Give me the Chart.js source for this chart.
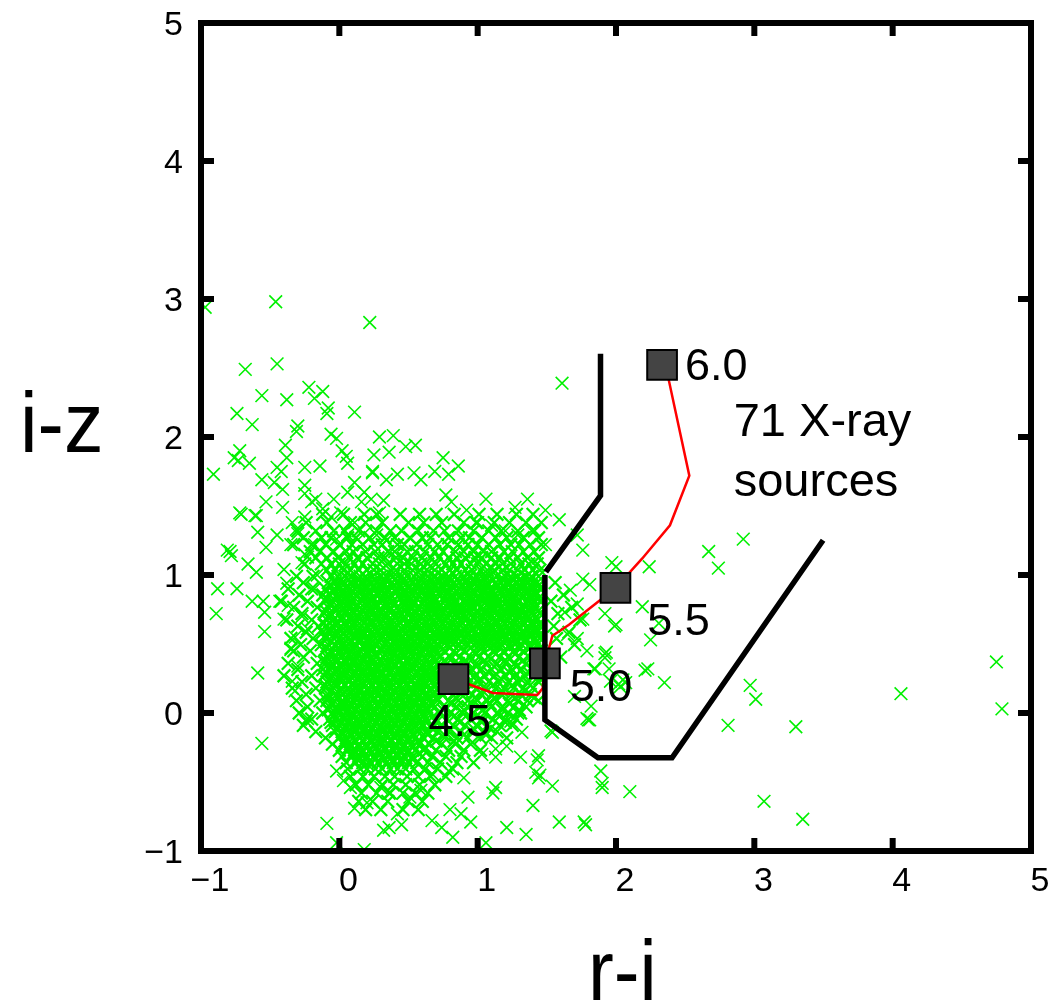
<!DOCTYPE html>
<html>
<head>
<meta charset="utf-8">
<title>r-i vs i-z</title>
<script src="https://cdn.jsdelivr.net/npm/chart.js"></script>
<style>
  html, body { margin: 0; padding: 0; background: #fff; }
  #wrap { width: 1054px; height: 1005px; }
</style>
</head>
<body>
<div id="wrap"><canvas id="chart" width="1054" height="1005"></canvas></div>
<script>
// Axis ticks
const riTicks = [-1, 0, 1, 2, 3, 4, 5];
const izTicks = [-1, 0, 1, 2, 3, 4, 5];

// Field objects, dense part: each row is [i-z, [r-i values...]]
const fieldRows = [
  [1.44, [-0.12, 0.03, 0.18, 0.27, 0.44, 0.58, 0.7, 0.83, 1.01, 1.14, 1.28, 1.4]],
  [1.38, [-0.24, -0.09, 0.08, 0.19, 0.31, 0.5, 0.61, 0.74, 0.9, 0.99, 1.12, 1.23, 1.35, 1.46]],
  [1.32, [-0.3, -0.17, -0.04, 0.04, 0.14, 0.27, 0.37, 0.45, 0.57, 0.68, 0.76, 0.86, 0.97, 1.08, 1.17, 1.29, 1.41]],
  [1.27, [-0.26, -0.13, -0.06, 0.06, 0.12, 0.22, 0.33, 0.4, 0.51, 0.6, 0.66, 0.79, 0.88, 0.94, 1.03, 1.13, 1.21, 1.33, 1.44]],
  [1.22, [-0.33, -0.2, -0.1, 0.0, 0.09, 0.17, 0.25, 0.31, 0.42, 0.47, 0.56, 0.64, 0.71, 0.78, 0.86, 0.93, 1.0, 1.08, 1.16, 1.24, 1.3, 1.38, 1.46]],
  [1.17, [-0.21, -0.14, -0.04, 0.05, 0.1, 0.19, 0.26, 0.35, 0.4, 0.49, 0.55, 0.62, 0.69, 0.75, 0.84, 0.9, 0.97, 1.04, 1.1, 1.19, 1.25, 1.33, 1.41]],
  [1.125, [-0.17, -0.09, -0.01, 0.07, 0.13, 0.2, 0.28, 0.33, 0.41, 0.46, 0.53, 0.6, 0.66, 0.72, 0.79, 0.85, 0.91, 0.98, 1.03, 1.1, 1.16, 1.23, 1.29, 1.36, 1.44]],
  [1.08, [-0.25, -0.13, -0.06, 0.0, 0.05, 0.11, 0.17, 0.24, 0.29, 0.35, 0.42, 0.47, 0.52, 0.59, 0.64, 0.7, 0.77, 0.82, 0.88, 0.95, 1.0, 1.06, 1.13, 1.18, 1.24, 1.31, 1.37, 1.43]],
  [1.035, [-0.09, -0.03, 0.03, 0.08, 0.14, 0.2, 0.25, 0.3, 0.37, 0.41, 0.47, 0.53, 0.58, 0.63, 0.69, 0.74, 0.8, 0.85, 0.91, 0.96, 1.02, 1.07, 1.12, 1.18, 1.23, 1.29, 1.34, 1.4, 1.45]],
  [0.99, [-0.31, -0.19, -0.06, -0.01, 0.04, 0.09, 0.15, 0.19, 0.24, 0.3, 0.34, 0.39, 0.45, 0.49, 0.54, 0.6, 0.64, 0.69, 0.75, 0.79, 0.84, 0.9, 0.94, 0.99, 1.05, 1.09, 1.14, 1.2, 1.24, 1.29, 1.35, 1.39, 1.44]],
  [0.967, [0.01, 0.07, 0.13, 0.2, 0.26, 0.33, 0.4, 0.46, 0.52, 0.59, 0.66, 0.72, 0.79, 0.85, 0.92, 0.98, 1.05, 1.11, 1.18, 1.25, 1.31, 1.38]],
  [0.945, [-0.26, -0.08, -0.03, 0.02, 0.08, 0.12, 0.17, 0.23, 0.27, 0.32, 0.38, 0.42, 0.47, 0.53, 0.57, 0.62, 0.68, 0.72, 0.77, 0.83, 0.87, 0.92, 0.98, 1.02, 1.07, 1.13, 1.17, 1.22, 1.28, 1.32, 1.37, 1.43, 1.56]],
  [0.922, [-0.06, 0.0, 0.06, 0.14, 0.19, 0.25, 0.31, 0.39, 0.44, 0.5, 0.56, 0.64, 0.69, 0.75, 0.81, 0.89, 0.94, 1.0, 1.06, 1.14, 1.19, 1.25, 1.31, 1.39, 1.44]],
  [0.9, [-0.37, -0.2, -0.1, -0.04, 0.0, 0.05, 0.11, 0.15, 0.2, 0.26, 0.3, 0.35, 0.41, 0.45, 0.5, 0.56, 0.6, 0.65, 0.71, 0.75, 0.8, 0.86, 0.9, 0.95, 1.01, 1.05, 1.1, 1.16, 1.2, 1.25, 1.31, 1.35, 1.4, 1.45]],
  [0.877, [-0.04, 0.03, 0.09, 0.16, 0.22, 0.28, 0.35, 0.41, 0.47, 0.54, 0.6, 0.66, 0.73, 0.79, 0.85, 0.92, 0.98, 1.04, 1.11, 1.17, 1.23, 1.3, 1.36, 1.42]],
  [0.855, [-0.29, -0.12, -0.07, -0.02, 0.03, 0.07, 0.13, 0.18, 0.22, 0.28, 0.33, 0.37, 0.43, 0.48, 0.52, 0.58, 0.63, 0.67, 0.73, 0.78, 0.82, 0.88, 0.93, 0.97, 1.03, 1.08, 1.12, 1.18, 1.23, 1.27, 1.33, 1.38, 1.42, 1.62]],
  [0.832, [-0.09, -0.01, 0.05, 0.11, 0.18, 0.25, 0.3, 0.37, 0.44, 0.49, 0.56, 0.63, 0.68, 0.75, 0.82, 0.87, 0.94, 1.01, 1.06, 1.13, 1.2, 1.25, 1.32, 1.39, 1.44]],
  [0.81, [-0.42, -0.23, -0.1, -0.05, 0.01, 0.05, 0.09, 0.16, 0.2, 0.24, 0.31, 0.35, 0.39, 0.46, 0.5, 0.54, 0.61, 0.65, 0.69, 0.76, 0.8, 0.84, 0.91, 0.95, 0.99, 1.06, 1.1, 1.14, 1.21, 1.25, 1.29, 1.36, 1.4, 1.45, 1.53]],
  [0.787, [-0.07, 0.0, 0.07, 0.13, 0.2, 0.27, 0.33, 0.4, 0.47, 0.53, 0.6, 0.67, 0.73, 0.8, 0.87, 0.93, 1.0, 1.07, 1.13, 1.2, 1.27, 1.33, 1.4]],
  [0.765, [-0.33, -0.16, -0.08, -0.03, 0.03, 0.07, 0.12, 0.18, 0.22, 0.27, 0.33, 0.37, 0.42, 0.48, 0.52, 0.57, 0.63, 0.67, 0.72, 0.78, 0.82, 0.87, 0.93, 0.97, 1.02, 1.08, 1.12, 1.17, 1.23, 1.27, 1.32, 1.38, 1.42, 1.68]],
  [0.742, [-0.1, -0.02, 0.05, 0.1, 0.17, 0.23, 0.29, 0.36, 0.43, 0.48, 0.55, 0.62, 0.67, 0.74, 0.81, 0.86, 0.93, 1.0, 1.05, 1.12, 1.19, 1.24, 1.31, 1.38, 1.44]],
  [0.72, [-0.27, -0.11, -0.06, 0.0, 0.04, 0.1, 0.15, 0.19, 0.25, 0.3, 0.34, 0.4, 0.45, 0.49, 0.55, 0.6, 0.64, 0.7, 0.75, 0.79, 0.85, 0.9, 0.94, 1.0, 1.05, 1.09, 1.15, 1.2, 1.24, 1.3, 1.35, 1.39, 1.45, 1.58]],
  [0.697, [-0.08, 0.02, 0.08, 0.14, 0.21, 0.27, 0.34, 0.4, 0.47, 0.53, 0.59, 0.66, 0.72, 0.78, 0.85, 0.91, 0.97, 1.04, 1.1, 1.17, 1.23, 1.29, 1.36, 1.42]],
  [0.675, [-0.38, -0.2, -0.09, -0.04, 0.02, 0.08, 0.12, 0.17, 0.23, 0.27, 0.32, 0.38, 0.42, 0.47, 0.53, 0.57, 0.62, 0.68, 0.72, 0.77, 0.83, 0.87, 0.92, 0.98, 1.02, 1.07, 1.13, 1.17, 1.22, 1.28, 1.32, 1.37, 1.43, 1.74]],
  [0.652, [-0.11, -0.01, 0.04, 0.11, 0.18, 0.24, 0.3, 0.37, 0.44, 0.5, 0.56, 0.63, 0.7, 0.75, 0.82, 0.89, 0.94, 1.01, 1.08, 1.14, 1.2, 1.27, 1.34, 1.4, 1.45]],
  [0.63, [-0.3, -0.15, -0.1, -0.05, 0.01, 0.05, 0.1, 0.16, 0.2, 0.25, 0.31, 0.35, 0.4, 0.46, 0.5, 0.55, 0.61, 0.65, 0.7, 0.76, 0.8, 0.85, 0.91, 0.95, 1.0, 1.06, 1.1, 1.15, 1.21, 1.25, 1.3, 1.36, 1.4, 1.45, 1.55]],
  [0.607, [-0.07, 0.0, 0.07, 0.13, 0.19, 0.26, 0.33, 0.39, 0.45, 0.52, 0.59, 0.65, 0.71, 0.78, 0.85, 0.9, 0.97, 1.04, 1.1, 1.16, 1.23, 1.3, 1.36, 1.43]],
  [0.585, [-0.24, -0.12, -0.07, -0.02, 0.03, 0.08, 0.13, 0.18, 0.23, 0.28, 0.33, 0.38, 0.43, 0.48, 0.53, 0.58, 0.63, 0.68, 0.73, 0.78, 0.83, 0.88, 0.93, 0.98, 1.03, 1.08, 1.13, 1.18, 1.23, 1.28, 1.33, 1.38, 1.43, 1.66]],
  [0.562, [-0.1, -0.02, 0.05, 0.12, 0.17, 0.24, 0.31, 0.36, 0.43, 0.5, 0.55, 0.62, 0.69, 0.74, 0.81, 0.88, 0.93, 1.0, 1.07, 1.12, 1.19, 1.26, 1.31, 1.38, 1.44]],
  [0.54, [-0.35, -0.19, -0.1, -0.04, 0.0, 0.06, 0.11, 0.15, 0.21, 0.26, 0.3, 0.36, 0.41, 0.45, 0.51, 0.56, 0.6, 0.66, 0.71, 0.75, 0.81, 0.86, 0.9, 0.96, 1.01, 1.05, 1.11, 1.16, 1.2, 1.26, 1.31, 1.35, 1.41, 1.45, 1.57]],
  [0.517, [-0.06, 0.01, 0.08, 0.15, 0.21, 0.28, 0.35, 0.41, 0.48, 0.55, 0.61, 0.68, 0.75, 0.81, 0.88, 0.95, 1.01, 1.08, 1.15, 1.21, 1.28, 1.35, 1.42]],
  [0.495, [-0.28, -0.13, -0.08, -0.03, 0.03, 0.07, 0.12, 0.18, 0.22, 0.27, 0.33, 0.37, 0.42, 0.48, 0.52, 0.57, 0.63, 0.67, 0.72, 0.78, 0.82, 0.87, 0.93, 0.97, 1.02, 1.08, 1.12, 1.17, 1.23, 1.27, 1.32, 1.38, 1.43, 1.7]],
  [0.472, [-0.09, -0.01, 0.04, 0.11, 0.18, 0.23, 0.3, 0.37, 0.42, 0.49, 0.56, 0.61, 0.68, 0.73, 0.8, 0.88, 0.95, 1.02, 1.09, 1.16, 1.23, 1.3, 1.38, 1.45]],
  [0.45, [-0.33, -0.21, -0.11, -0.06, 0.0, 0.05, 0.09, 0.15, 0.2, 0.24, 0.3, 0.35, 0.39, 0.45, 0.5, 0.54, 0.6, 0.65, 0.69, 0.76, 0.83, 0.9, 0.97, 1.04, 1.11, 1.19, 1.26, 1.33, 1.4, 1.46]],
  [0.427, [-0.08, 0.0, 0.07, 0.13, 0.2, 0.26, 0.33, 0.39, 0.46, 0.52, 0.59, 0.65, 0.71, 0.84, 0.99, 1.13, 1.27, 1.41]],
  [0.405, [-0.26, -0.09, -0.03, 0.02, 0.08, 0.12, 0.17, 0.23, 0.27, 0.32, 0.38, 0.42, 0.47, 0.53, 0.57, 0.62, 0.68, 0.73, 0.8, 0.87, 0.95, 1.01, 1.08, 1.16, 1.22, 1.3, 1.37, 1.44, 1.6]],
  [0.382, [-0.1, -0.02, 0.04, 0.11, 0.17, 0.24, 0.3, 0.37, 0.43, 0.5, 0.56, 0.63, 0.69, 0.76, 0.91, 1.05, 1.2, 1.33]],
  [0.36, [-0.37, -0.16, -0.1, -0.05, 0.01, 0.05, 0.1, 0.16, 0.2, 0.25, 0.31, 0.35, 0.4, 0.46, 0.5, 0.55, 0.61, 0.65, 0.71, 0.78, 0.86, 0.93, 0.99, 1.06, 1.14, 1.2, 1.27, 1.35, 1.42]],
  [0.337, [-0.06, 0.01, 0.08, 0.14, 0.21, 0.27, 0.34, 0.4, 0.47, 0.53, 0.6, 0.66, 0.72, 0.85, 0.99, 1.12, 1.28, 1.43]],
  [0.315, [-0.3, -0.12, -0.07, -0.02, 0.03, 0.08, 0.13, 0.18, 0.23, 0.28, 0.33, 0.38, 0.43, 0.48, 0.53, 0.58, 0.63, 0.68, 0.74, 0.82, 0.89, 0.96, 1.03, 1.1, 1.17, 1.25, 1.32, 1.39, 1.46]],
  [0.292, [-0.09, -0.02, 0.05, 0.11, 0.18, 0.24, 0.31, 0.37, 0.44, 0.5, 0.57, 0.63, 0.7, 0.8, 0.94, 1.08, 1.23, 1.37]],
  [0.27, [-0.4, -0.2, -0.11, -0.05, 0.0, 0.04, 0.1, 0.15, 0.19, 0.25, 0.3, 0.34, 0.4, 0.45, 0.49, 0.55, 0.6, 0.64, 0.7, 0.77, 0.84, 0.92, 0.98, 1.05, 1.12, 1.2, 1.27, 1.34, 1.41]],
  [0.247, [-0.07, 0.0, 0.07, 0.13, 0.2, 0.26, 0.33, 0.39, 0.46, 0.52, 0.59, 0.65, 0.71, 0.88, 1.02, 1.17, 1.31, 1.45]],
  [0.225, [-0.27, -0.09, -0.03, 0.02, 0.07, 0.12, 0.17, 0.22, 0.27, 0.32, 0.37, 0.42, 0.47, 0.52, 0.57, 0.62, 0.67, 0.72, 0.8, 0.87, 0.94, 1.0, 1.08, 1.15, 1.22, 1.29, 1.36, 1.44]],
  [0.202, [-0.1, -0.03, 0.04, 0.1, 0.17, 0.23, 0.3, 0.36, 0.43, 0.49, 0.56, 0.62, 0.69, 0.82, 0.96, 1.11, 1.25, 1.38]],
  [0.18, [-0.34, -0.17, -0.1, -0.04, 0.01, 0.06, 0.11, 0.15, 0.21, 0.26, 0.3, 0.36, 0.41, 0.45, 0.51, 0.56, 0.6, 0.66, 0.71, 0.78, 0.85, 0.91, 0.99, 1.06, 1.13, 1.19, 1.26, 1.33, 1.4]],
  [0.157, [-0.06, 0.01, 0.08, 0.14, 0.21, 0.27, 0.34, 0.4, 0.47, 0.53, 0.6, 0.66, 0.73, 0.89, 1.04, 1.18, 1.34]],
  [0.135, [-0.24, -0.08, -0.02, 0.03, 0.08, 0.13, 0.18, 0.23, 0.28, 0.33, 0.38, 0.43, 0.48, 0.53, 0.58, 0.63, 0.68, 0.74, 0.82, 0.88, 0.96, 1.03, 1.1, 1.17, 1.24, 1.31, 1.38]],
  [0.112, [-0.08, -0.01, 0.05, 0.12, 0.18, 0.25, 0.31, 0.38, 0.44, 0.51, 0.57, 0.64, 0.7, 0.84, 0.98, 1.12, 1.27, 1.41]],
  [0.09, [-0.31, -0.14, -0.09, -0.04, 0.02, 0.06, 0.1, 0.16, 0.2, 0.25, 0.31, 0.35, 0.4, 0.46, 0.5, 0.55, 0.61, 0.65, 0.71, 0.79, 0.86, 0.93, 1.0, 1.07, 1.14, 1.22, 1.29, 1.36, 1.44]],
  [0.067, [-0.05, 0.02, 0.08, 0.15, 0.21, 0.28, 0.34, 0.41, 0.47, 0.54, 0.6, 0.67, 0.81, 0.96, 1.09, 1.23]],
  [0.045, [-0.23, -0.07, -0.02, 0.03, 0.08, 0.13, 0.18, 0.23, 0.28, 0.33, 0.38, 0.43, 0.48, 0.53, 0.58, 0.63, 0.69, 0.77, 0.85, 0.93, 1.01, 1.1, 1.18, 1.26, 1.35]],
  [0.022, [-0.08, -0.01, 0.06, 0.12, 0.19, 0.25, 0.32, 0.38, 0.45, 0.51, 0.58, 0.64, 0.75, 0.9, 1.04, 1.18, 1.3]],
  [0.0, [-0.29, -0.12, -0.05, 0.0, 0.05, 0.1, 0.15, 0.2, 0.25, 0.3, 0.35, 0.4, 0.45, 0.5, 0.55, 0.6, 0.65, 0.72, 0.8, 0.89, 0.97, 1.05, 1.14, 1.22, 1.31]],
  [-0.023, [-0.04, 0.03, 0.09, 0.16, 0.22, 0.29, 0.35, 0.42, 0.48, 0.55, 0.61, 0.68, 0.83, 0.99, 1.16]],
  [-0.045, [-0.2, -0.07, -0.02, 0.03, 0.08, 0.13, 0.18, 0.23, 0.28, 0.33, 0.38, 0.43, 0.48, 0.53, 0.58, 0.63, 0.7, 0.78, 0.86, 0.95, 1.03, 1.11, 1.2, 1.28]],
  [-0.068, [-0.06, 0.01, 0.07, 0.14, 0.2, 0.27, 0.33, 0.4, 0.46, 0.53, 0.59, 0.7, 0.87, 1.03, 1.2]],
  [-0.09, [-0.26, -0.05, 0.0, 0.05, 0.1, 0.15, 0.2, 0.25, 0.3, 0.35, 0.4, 0.45, 0.5, 0.55, 0.6, 0.66, 0.74, 0.82, 0.91, 0.99, 1.07, 1.16, 1.25]],
  [-0.113, [-0.02, 0.05, 0.11, 0.18, 0.24, 0.31, 0.37, 0.44, 0.5, 0.57, 0.67, 0.8, 0.97, 1.09]],
  [-0.135, [-0.17, -0.03, 0.02, 0.07, 0.12, 0.17, 0.22, 0.27, 0.32, 0.37, 0.42, 0.47, 0.52, 0.57, 0.63, 0.71, 0.79, 0.88, 0.96, 1.05, 1.14]],
  [-0.158, [0.02, 0.08, 0.15, 0.21, 0.28, 0.34, 0.41, 0.47, 0.54, 0.64, 0.76, 0.9, 1.06]],
  [-0.18, [-0.1, 0.0, 0.05, 0.1, 0.15, 0.2, 0.25, 0.3, 0.35, 0.4, 0.45, 0.5, 0.55, 0.61, 0.68, 0.76, 0.85, 0.93, 1.02, 1.1, 1.21]],
  [-0.203, [0.04, 0.11, 0.17, 0.24, 0.3, 0.37, 0.43, 0.5, 0.57, 0.7, 0.83]],
  [-0.225, [-0.05, 0.03, 0.08, 0.14, 0.19, 0.25, 0.3, 0.36, 0.41, 0.47, 0.52, 0.58, 0.65, 0.74, 0.84, 0.95]],
  [-0.248, [0.07, 0.14, 0.2, 0.27, 0.33, 0.4, 0.46, 0.53, 0.62]],
  [-0.27, [0.0, 0.06, 0.11, 0.17, 0.22, 0.28, 0.33, 0.39, 0.44, 0.5, 0.55, 0.61, 0.7, 0.79, 0.9, 1.02]],
  [-0.293, [0.1, 0.16, 0.23, 0.29, 0.36, 0.42, 0.49, 0.58]],
  [-0.315, [0.02, 0.09, 0.14, 0.2, 0.25, 0.31, 0.36, 0.42, 0.47, 0.53, 0.6, 0.67, 0.77, 0.88]],
  [-0.338, [0.13, 0.19, 0.26, 0.32, 0.39, 0.45, 0.53]],
  [-0.36, [0.05, 0.12, 0.17, 0.23, 0.28, 0.34, 0.39, 0.45, 0.5, 0.56, 0.64, 0.73, 0.85, 0.97]],
  [-0.405, [0.06, 0.15, 0.2, 0.26, 0.31, 0.37, 0.42, 0.48, 0.54, 0.62, 0.71, 0.82]],
  [-0.46, [0.08, 0.17, 0.25, 0.33, 0.4, 0.49, 0.57, 0.66, 0.77]],
  [-0.52, [0.12, 0.21, 0.31, 0.39, 0.48, 0.58, 0.69]],
  [-0.58, [0.16, 0.27, 0.36, 0.46, 0.55, 0.64]],
  [-0.64, [0.14, 0.24, 0.35, 0.5, 0.6]],
  [-0.7, [0.19, 0.3, 0.46, 0.57]]
];

// Field objects, scattered ones: [r-i, i-z]
const fieldLoose = [
  [-0.97, 2.94], [-0.46, 2.98], [0.22, 2.83], [-0.68, 2.49], [-0.45, 2.53], [-0.22, 2.36], [-0.12, 2.33],
  [-0.18, 2.28], [-0.56, 2.3], [-0.38, 2.27], [-0.74, 2.17], [-0.63, 2.09], [-0.08, 2.21], [-0.09, 2.17],
  [0.11, 2.18], [-0.3, 2.08], [-0.31, 2.04], [-0.06, 2.02], [-0.02, 1.99], [-0.39, 1.94], [0.29, 2.0],
  [0.39, 2.01], [0.55, 1.94], [0.48, 1.93], [0.36, 1.89], [0.25, 1.87], [0.02, 1.9], [0.06, 1.81],
  [-0.72, 1.9], [-0.76, 1.85], [-0.65, 1.81], [-0.91, 1.73], [-0.56, 1.69], [-0.47, 1.67], [-0.41, 1.62],
  [-0.45, 1.78], [-0.42, 1.75], [-0.25, 1.78], [-0.14, 1.79], [-0.25, 1.65], [-0.25, 1.59], [0.11, 1.67],
  [0.18, 1.6], [0.24, 1.74], [0.34, 1.69], [0.42, 1.73], [0.54, 1.74], [0.59, 1.69], [0.75, 1.85],
  [0.86, 1.79], [0.79, 1.73], [1.06, 1.55], [1.27, 1.49], [1.36, 1.55], [-0.72, 1.45], [-0.6, 1.43],
  [-0.53, 1.53], [-0.41, 1.49], [-0.79, 1.17], [-0.66, 1.08], [-0.6, 1.02], [-0.45, 1.29], [-0.53, 1.2],
  [-0.4, 1.04], [-0.59, 1.31], [-0.34, 1.38], [-0.31, 1.33],
  [0.69, 1.75], [1.49, 1.47], [1.59, 1.4], [0.92, 1.47], [0.77, 1.58], [0.81, 1.53], [1.39, 1.32],
  [1.49, 1.22], [1.29, 1.29], [1.2, 1.32], [1.1, 1.36], [1.0, 1.38],
  [-0.73, 1.83], [-0.38, 1.85], [0.05, 1.86], [0.24, 1.75], [-0.71, 1.44], [-0.61, 1.43],
  [-0.81, 1.18], [-0.78, 1.14], [-0.88, 0.9], [-0.74, 0.9], [-0.89, 0.72], [-0.63, 0.81], [-0.55, 0.81],
  [-0.54, 0.73], [-0.54, 0.59], [-0.38, 0.94], [-0.43, 0.81], [-0.37, 0.78], [-0.4, 0.68], [-0.27, 0.7],
  [-0.23, 0.61], [-0.32, 0.55], [-0.35, 0.47], [-0.25, 1.42], [-0.3, 1.3], [-0.35, 1.22], [-0.25, 1.15],
  [-0.27, 1.09], [-0.2, 1.53], [-0.17, 1.55], [-0.12, 1.48], [-0.04, 1.55], [-0.06, 1.42], [0.01, 1.45],
  [0.06, 1.6], [0.16, 1.53], [0.23, 1.55], [0.29, 1.45], [0.32, 1.54], [0.11, 1.38], [0.18, 1.3],
  [-0.13, 1.27], [-0.18, 1.22], [-0.23, 1.13], [-0.16, 1.0], [-0.18, 0.9], [-0.09, 1.12], [-0.02, 1.26],
  [0.06, 1.29], [0.27, 1.29], [0.34, 1.25],
  [-0.59, 0.29], [-0.56, -0.22], [-0.35, 0.46], [-0.3, 0.34], [-0.34, 0.23], [-0.32, 0.16], [-0.24, -0.06],
  [-0.23, -0.04], [-0.09, -0.8], [-0.02, -0.94], [0.03, -0.49], [0.08, -0.54], [0.11, -0.69], [0.2, -0.65],
  [0.32, -0.85], [0.18, -0.99], [-0.02, -0.42], [0.2, -0.37], [0.3, -0.54], [0.37, -0.58],
  [1.79, 0.45], [1.92, 0.43], [2.23, 0.32], [2.07, 0.22], [1.79, -0.04], [1.7, 0.12], [1.89, -0.42],
  [1.9, -0.51], [2.1, -0.57], [1.54, -0.53], [1.4, -0.67], [1.59, -0.79], [1.77, -0.79], [1.35, -0.88],
  [1.21, -0.83], [1.13, -0.54], [1.11, -0.58], [1.44, -0.31], [1.42, -0.43], [1.45, -0.45], [1.31, -0.32],
  [1.32, -0.14], [1.53, -0.13], [1.21, -0.24], [1.13, -0.26], [1.24, -0.06], [0.93, -0.61], [0.88, -0.73],
  [0.8, -0.7], [0.95, -0.79], [0.74, -0.83], [0.82, -0.9], [1.06, -0.94], [0.67, -0.78], [0.45, -0.81],
  [0.36, -0.83], [0.9, -0.47], [0.79, -0.42], [0.67, -0.44], [0.59, -0.56], [0.51, -0.61], [0.42, -0.73],
  [1.13, -0.32], [1.03, -0.3], [1.29, 0.0],
  [2.74, 1.05], [4.75, 0.37], [4.06, 0.14], [4.79, 0.03], [2.97, 0.2], [3.01, 0.1], [2.81, -0.09],
  [3.3, -0.1], [3.07, -0.64], [3.35, -0.77], [2.35, 0.22], [2.21, 0.31], [2.25, 0.53], [1.93, 0.44],
  [1.95, 0.32], [1.85, 0.32], [2.02, 0.21], [2.03, 0.19], [1.82, 0.05], [1.81, -0.05], [1.99, 0.63],
  [1.9, -0.54], [1.78, -0.81], [1.43, -0.34], [1.44, -0.47], [1.54, -0.14], [1.8, -0.05],
  [2.92, 1.26], [2.67, 1.17], [2.24, 1.06], [1.97, 1.09], [2.0, 1.06], [1.76, 1.18], [1.72, 1.29],
  [2.19, 0.77], [2.31, 0.65], [2.0, 0.64], [1.92, 0.72], [1.96, 0.23], [2.05, 0.24], [1.84, 0.32],
  [1.92, 0.4], [1.76, 0.97], [1.81, 0.93], [1.67, 0.89], [1.72, 0.79], [1.63, 0.73], [1.76, 0.68],
  [1.65, 0.57], [1.72, 0.54], [1.61, 2.39]
];

// Selection region boundary (two segments)
const boundaryUpper = [[1.888, 2.604], [1.888, 1.576], [1.493, 1.022]];
const boundaryLower = [[1.486, 1.0], [1.486, -0.05], [1.87, -0.325], [2.405, -0.325], [3.497, 1.252]];

// Model track (redshift 4.5 -> 6.0)
const trackRi = [0.825, 0.93, 1.11, 1.43, 1.47, 1.486, 1.54, 1.66, 1.996, 2.19, 2.39, 2.53, 2.38, 2.333];
const trackIz = [0.245, 0.21, 0.145, 0.13, 0.18, 0.36, 0.56, 0.64, 0.906, 1.12, 1.36, 1.72, 2.42, 2.522];

// Redshift markers
const zLabels = ['4.5', '5.0', '5.5', '6.0'];
const zRi = [0.825, 1.486, 1.996, 2.333];
const zIz = [0.245, 0.36, 0.906, 2.522];
// where each label text sits (left edge, baseline) in data units
const zLabelRi = [0.645, 1.665, 2.226, 2.499];
const zLabelIz = [-0.165, 0.086, 0.568, 2.41];

const noteLines = ['71 X-ray', 'sources'];
const noteRi = 2.851;
const noteIz = [2.007, 1.576];

const densePoints = [];
fieldRows.forEach(([iz, riList]) => riList.forEach(ri => densePoints.push({ x: ri, y: iz })));
const loosePoints = fieldLoose.map(([ri, iz]) => ({ x: ri, y: iz }));

const toXY = arr => arr.map(([x, y]) => ({ x, y }));

const labelFont = '"Liberation Sans", Arial, sans-serif';
const tickFont = '"Liberation Sans Narrow", "Liberation Sans", Arial, sans-serif';
const fieldGreen = 'rgb(0,240,0)';

function minusFmt(v) {
  return v < 0 ? '\u2212' + Math.abs(v) : String(v);
}

const decorPlugin = {
  id: 'decor',
  afterDatasetsDraw(chart) {
    const { ctx, chartArea: a, scales: { x, y } } = chart;
    ctx.save();
    // frame with inward ticks
    ctx.strokeStyle = '#000';
    ctx.lineWidth = 6;
    ctx.lineJoin = 'miter';
    ctx.strokeRect(a.left, a.top, a.right - a.left, a.bottom - a.top);
    ctx.beginPath();
    riTicks.slice(1, -1).forEach(v => {
      const px = x.getPixelForValue(v);
      ctx.moveTo(px, a.bottom); ctx.lineTo(px, a.bottom - 13);
      ctx.moveTo(px, a.top); ctx.lineTo(px, a.top + 13);
    });
    izTicks.slice(1, -1).forEach(v => {
      const py = y.getPixelForValue(v);
      ctx.moveTo(a.left, py); ctx.lineTo(a.left + 13, py);
      ctx.moveTo(a.right, py); ctx.lineTo(a.right - 13, py);
    });
    ctx.stroke();

    // redshift labels and note
    ctx.fillStyle = '#000';
    ctx.textAlign = 'left';
    ctx.textBaseline = 'alphabetic';
    ctx.font = '45px ' + labelFont;
    zLabels.forEach((t, i) => {
      ctx.fillText(t, x.getPixelForValue(zLabelRi[i]), y.getPixelForValue(zLabelIz[i]));
    });
    ctx.font = '47px ' + labelFont;
    noteLines.forEach((t, i) => {
      ctx.fillText(t, x.getPixelForValue(noteRi), y.getPixelForValue(noteIz[i]));
    });

    // axis titles
    ctx.font = '86px ' + labelFont;
    ctx.save();
    ctx.translate(20, 452);
    ctx.scale(0.92, 1);
    ctx.fillText('i-z', 0, 0);
    ctx.restore();
    ctx.save();
    ctx.translate(588, 1000);
    ctx.scale(0.9, 1);
    ctx.fillText('r-i', 0, 0);
    ctx.restore();
    ctx.restore();
  }
};

new Chart(document.getElementById('chart').getContext('2d'), {
  type: 'scatter',
  data: {
    datasets: [
      {
        label: 'boundary',
        data: toXY(boundaryUpper),
        showLine: true,
        borderColor: '#000',
        borderWidth: 5.5,
        pointRadius: 0,
        borderJoinStyle: 'miter',
        order: 1
      },
      {
        label: 'boundary 2',
        data: toXY(boundaryLower),
        showLine: true,
        borderColor: '#000',
        borderWidth: 5.5,
        pointRadius: 0,
        borderJoinStyle: 'miter',
        order: 1
      },
      {
        label: 'redshift',
        data: zRi.map((v, i) => ({ x: v, y: zIz[i] })),
        pointStyle: 'rect',
        pointRadius: 21,
        backgroundColor: '#444444',
        borderColor: '#000',
        borderWidth: 2,
        order: 2
      },
      {
        label: 'track',
        data: trackRi.map((v, i) => ({ x: v, y: trackIz[i] })),
        showLine: true,
        borderColor: '#ff0000',
        borderWidth: 2.5,
        pointRadius: 0,
        order: 3
      },
      {
        label: 'field (scattered)',
        data: loosePoints,
        pointStyle: 'crossRot',
        pointRadius: 9,
        borderColor: fieldGreen,
        backgroundColor: 'rgba(0,0,0,0)',
        borderWidth: 1.6,
        order: 4
      },
      {
        label: 'field (dense)',
        data: densePoints,
        pointStyle: 'crossRot',
        pointRadius: 9,
        borderColor: fieldGreen,
        backgroundColor: 'rgba(0,0,0,0)',
        borderWidth: 2.2,
        order: 5
      }
    ]
  },
  options: {
    responsive: false,
    animation: false,
    events: [],
    layout: { padding: { top: 17, right: 18, left: 0, bottom: 0 } },
    plugins: { legend: { display: false }, tooltip: { enabled: false } },
    scales: {
      x: {
        type: 'linear',
        min: -1,
        max: 5,
        afterBuildTicks: s => { s.ticks = riTicks.map(v => ({ value: v })); },
        afterFit: s => { s.height = 154; s.paddingLeft = 0; s.paddingRight = 0; },
        grid: { display: false, drawTicks: false },
        border: { display: false },
        ticks: {
          padding: 10,
          labelOffset: 9,
          color: '#000',
          font: { size: 34, family: tickFont },
          maxRotation: 0,
          callback: minusFmt
        }
      },
      y: {
        type: 'linear',
        min: -1,
        max: 5,
        afterBuildTicks: s => { s.ticks = izTicks.map(v => ({ value: v })); },
        afterFit: s => { s.width = 201; s.paddingTop = 0; s.paddingBottom = 0; },
        grid: { display: false, drawTicks: false },
        border: { display: false },
        ticks: {
          padding: 18,
          labelOffset: 3,
          color: '#000',
          font: { size: 34, family: tickFont },
          callback: minusFmt
        }
      }
    }
  },
  plugins: [decorPlugin]
});
</script>
</body>
</html>
